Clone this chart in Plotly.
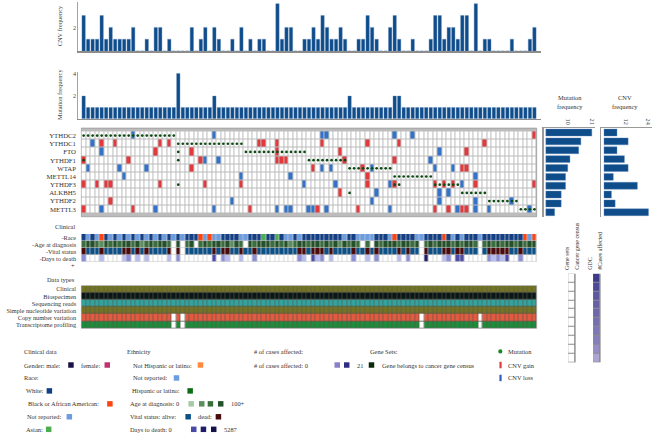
import plotly.graph_objects as go

W, H = 653, 434
FONT = "Liberation Serif"

# ---------------- data ----------------
genes = ["YTHDC2", "YTHDC1", "FTO", "YTHDF1", "WTAP", "METTL14",
         "YTHDF3", "ALKBH5", "YTHDF2", "METTL3"]
N_CASES = 101
case_ids = list(range(N_CASES))

mutation_cases = {
    "YTHDC2": [0, 1, 2, 3, 4, 5, 6, 7, 8, 9, 10, 11, 12, 13, 14, 15, 16, 17, 18, 19, 20],
    "YTHDC1": [21, 22, 23, 24, 25, 26, 27, 28, 29, 30, 31, 32, 33, 34, 35],
    "FTO": [21, 36, 37, 38, 39, 40, 41, 42, 43, 44, 45, 46, 47, 48, 49],
    "YTHDF1": [0, 21, 50, 51, 52, 53, 54, 55, 56, 57, 58],
    "WTAP": [59, 60, 61, 62, 63, 64, 65, 66, 67, 68],
    "METTL14": [69, 70, 71, 72, 73, 74, 75, 76, 77],
    "YTHDF3": [21, 69, 70, 78, 79, 80, 81, 82, 83],
    "ALKBH5": [59, 84, 85, 86, 87, 88, 89],
    "YTHDF2": [90, 91, 92, 93, 94, 95, 96],
    "METTL3": [97, 98, 99, 100],
}
cnv_gain_cases = {
    "YTHDC2": [100],
    "YTHDC1": [4, 7, 17, 19, 39, 40, 43, 53, 63, 70, 89],
    "FTO": [16, 24, 43, 57, 85],
    "YTHDF1": [0, 10, 26, 43, 44, 45, 58, 69],
    "WTAP": [24, 51, 62, 84, 85],
    "METTL14": [63],
    "YTHDF3": [0, 3, 5, 6, 17, 27, 35, 63, 69, 78, 80, 82, 87, 100],
    "ALKBH5": [57],
    "YTHDF2": [6],
    "METTL3": [0, 11, 37, 52, 61, 78, 81, 84, 85],
}
cnv_loss_cases = {
    "YTHDC2": [11, 29, 53, 54, 69, 73],
    "YTHDC1": [2],
    "FTO": [4, 79],
    "YTHDF1": [27, 30, 77],
    "WTAP": [1, 8, 14, 53, 55, 64, 78, 82],
    "METTL14": [9, 35, 46, 87],
    "YTHDF3": [49, 56, 68, 84],
    "ALKBH5": [65, 79, 81],
    "YTHDF2": [33, 64, 79, 87, 95],
    "METTL3": [4, 16, 29, 43, 45, 46, 50, 51, 54, 68, 83, 87, 90, 99],
}

cnv_by_case = [3, 1, 1, 1, 3, 1, 2, 1, 1, 1,
               1, 2, 0, 0, 1, 0, 2, 2, 0, 1,
               0, 0, 0, 0, 2, 0, 1, 2, 0, 2,
               1, 0, 0, 1, 0, 2, 0, 1, 0, 1,
               1, 0, 0, 4, 1, 2, 2, 0, 0, 1,
               1, 2, 1, 3, 2, 1, 1, 2, 1, 0,
               0, 1, 1, 3, 2, 1, 0, 0, 2, 3,
               1, 0, 0, 1, 0, 0, 0, 1, 3, 3,
               1, 2, 2, 1, 3, 3, 0, 4, 0, 1,
               1, 0, 0, 0, 0, 1, 0, 0, 0, 1,
               2]
mutation_by_case = [2, 1, 1, 1, 1, 1, 1, 1, 1, 1,
                    1, 1, 1, 1, 1, 1, 1, 1, 1, 1,
                    1, 4, 1, 1, 1, 1, 1, 1, 1, 2,
                    1, 1, 1, 1, 1, 1, 1, 1, 1, 1,
                    1, 1, 1, 1, 1, 1, 1, 1, 1, 1,
                    1, 1, 1, 1, 1, 1, 1, 1, 1, 2,
                    1, 1, 1, 1, 1, 1, 1, 1, 1, 2,
                    2, 1, 1, 1, 1, 1, 1, 1, 1, 1,
                    1, 1, 1, 1, 1, 1, 1, 1, 1, 1,
                    1, 1, 1, 1, 1, 1, 1, 1, 1, 1,
                    1]
mutation_freq_by_gene = [21, 16, 15, 11, 10, 9, 9, 7, 7, 4]
cnv_freq_by_gene = [7, 13, 7, 11, 13, 5, 18, 4, 6, 24]
cancer_census_by_gene = [0, 0, 0, 0, 0, 0, 0, 0, 0, 0]
cases_affected_by_gene = [19, 17, 15, 14, 13, 12, 11, 10, 8, 5]

clinical_tracks = ["-Race", "-Age at diagnosis", "-Vital status", "-Days to death"]
race = ("WNWNBWNWNW" "NWNWNWNWNW" "NWNWWWBNBN" "NWWWWNNWWW" "AWWAWNNWNW"
        "WWWWWWWWNW" "WNNNNWWWNB" "WWWWNNWWWW" "BWNWNWWWNW" "WWWWWWWWBN" "B")
age_bin = ("3443243434" "4342343443" "0403403434" "4342430434" "4434342344"
           "3443434243" "4303043444" "3443403434" "4434344303" "4343443434" "4")
vital = ("DAAADAAAAD" "DADADAAAAD" "0D0AAAAAAD" "ADDAADAADA" "AAAAAAAADD"
         "ADDDADAAAA" "DAADADAAAA" "DADAA0DAAA" "DDADDAAA0A" "DDDDDAADAA" "A")
days_bin = ("2000100001" "2010100001" "0200000003" "0210010020" "0000000021"
            "0312010000" "2001020000" "1020004000" "1203300000" "2121300200" "0")

data_types = ["Clinical", "Biospecimen", "Sequencing reads",
              "Simple nucleotide variation", "Copy number variation",
              "Transcriptome profiling"]
data_type_missing = {"Copy number variation": [20, 22, 75, 88],
                     "Transcriptome profiling": [20, 22, 75, 88]}

# ---------------- colours ----------------
C_BAR = "#0f4c8a"
C_GAIN = "#e2393d"
C_LOSS = "#3273c9"
C_MUT = "#0e4a16"
race_col = {"W": "#123f85", "N": "#6b9de0", "B": "#ff4411", "A": "#4cae50"}
age_col = {"1": "#a6c9a6", "2": "#5d8e5d", "3": "#3a6e3c", "4": "#24502a"}
vital_col = {"A": "#0c5088", "D": "#4b0a0d"}
days_col = {"1": "#b7bdf0", "2": "#8a8fd8", "3": "#4b4aa8", "4": "#1c1b6a"}
dtype_col = {"Clinical": "#737325", "Biospecimen": "#0b1717",
             "Sequencing reads": "#33a3a0", "Simple nucleotide variation": "#737325",
             "Copy number variation": "#e25a40", "Transcriptome profiling": "#1d8c3c"}


def px(x):
    return x / W


def py(y):
    return 1 - y / H


def discrete_scale(colors):
    n = len(colors)
    cs = []
    for i, c in enumerate(colors):
        cs.append([i / n, c])
        cs.append([(i + 1) / n, c])
    return cs


# ---------------- geometry ----------------
GL, GR = 81.5, 537.5
colw = (GR - GL) / N_CASES
BL, BR = 78.3, 541.5
bar_range = [-0.5 - (GL - BL) / colw, N_CASES - 0.5 + (BR - GR) / colw]
grid_range = [-0.5, N_CASES - 0.5]
grid_dom = [py(215.7), py(126.7)]

fig = go.Figure()

# top CNV frequency per case
fig.add_trace(go.Bar(x=case_ids, y=cnv_by_case, xaxis="x", yaxis="y", width=0.74,
                     marker=dict(color=C_BAR, line=dict(color="#5a86b8", width=0.4)),
                     hoverinfo="skip"))
# mutation frequency per case
fig.add_trace(go.Bar(x=case_ids, y=mutation_by_case, xaxis="x4", yaxis="y2", width=0.74,
                     marker=dict(color=C_BAR, line=dict(color="#5a86b8", width=0.4)),
                     hoverinfo="skip"))

# oncoprint grid
z = []
for g in genes:
    row = []
    for c in case_ids:
        if c in cnv_gain_cases[g]:
            row.append(1)
        elif c in cnv_loss_cases[g]:
            row.append(2)
        else:
            row.append(0)
    z.append(row)
fig.add_trace(go.Heatmap(z=z, x=case_ids, y=genes, xaxis="x5", yaxis="y3",
                         colorscale=discrete_scale(["#ffffff", C_GAIN, C_LOSS]),
                         zmin=-0.5, zmax=2.5, showscale=False, xgap=1, ygap=1,
                         hoverinfo="skip"))
mx, my = [], []
for g in genes:
    for c in mutation_cases[g]:
        mx.append(c)
        my.append(g)
fig.add_trace(go.Scatter(x=mx, y=my, xaxis="x5", yaxis="y3", mode="markers",
                         marker=dict(size=2.7, color=C_MUT), hoverinfo="skip"))

# right panels
fig.add_trace(go.Bar(x=mutation_freq_by_gene, y=genes, orientation="h", xaxis="x2", yaxis="y6",
                     width=0.78, marker=dict(color=C_BAR, line=dict(color="#5a86b8", width=0.4)),
                     hoverinfo="skip"))
fig.add_trace(go.Bar(x=cnv_freq_by_gene, y=genes, orientation="h", xaxis="x3", yaxis="y7",
                     width=0.78, marker=dict(color=C_BAR, line=dict(color="#5a86b8", width=0.4)),
                     hoverinfo="skip"))

# clinical tracks
pal = ["#ffffff"] + list(race_col.values()) + list(age_col.values()) + \
      list(vital_col.values()) + list(days_col.values())
race_idx = {k: 1 + i for i, k in enumerate(race_col)}
age_idx = {k: 5 + i for i, k in enumerate(age_col)}
vital_idx = {k: 9 + i for i, k in enumerate(vital_col)}
days_idx = {k: 11 + i for i, k in enumerate(days_col)}
zc = [
    [race_idx.get(v, 0) for v in race],
    [age_idx.get(v, 0) for v in age_bin],
    [vital_idx.get(v, 0) for v in vital],
    [days_idx.get(v, 0) for v in days_bin],
]
fig.add_trace(go.Heatmap(z=zc, x=case_ids, y=clinical_tracks, xaxis="x6", yaxis="y4",
                         colorscale=discrete_scale(pal), zmin=-0.5, zmax=len(pal) - 0.5,
                         showscale=False, xgap=0.7, ygap=0.6, hoverinfo="skip"))

# data types
dpal = ["#ffffff"] + list(dict.fromkeys(dtype_col.values()))
zd = []
for d in data_types:
    code = dpal.index(dtype_col[d])
    miss = data_type_missing.get(d, [])
    zd.append([0 if c in miss else code for c in case_ids])
fig.add_trace(go.Heatmap(z=zd, x=case_ids, y=data_types, xaxis="x7", yaxis="y5",
                         colorscale=discrete_scale(dpal), zmin=-0.5, zmax=len(dpal) - 0.5,
                         showscale=False, xgap=0.6, ygap=0.8, hoverinfo="skip"))

# gene sets columns
fig.add_trace(go.Heatmap(z=[[v] for v in cancer_census_by_gene], x=[0], y=genes,
                         xaxis="x8", yaxis="y8", colorscale=[[0, "#ffffff"], [1, "#0a2a0a"]],
                         zmin=0, zmax=1, showscale=False, xgap=1, ygap=1, hoverinfo="skip"))
fig.add_trace(go.Heatmap(z=[[v] for v in cases_affected_by_gene], x=[0], y=genes,
                         xaxis="x9", yaxis="y8", colorscale=[[0, "#d2ccee"], [1, "#2f2a82"]],
                         zmin=0, zmax=21, showscale=False, xgap=1, ygap=1, hoverinfo="skip"))

# ---------------- axes ----------------
tf = dict(family=FONT, size=6.2, color="#444")
hidden = dict(showgrid=False, zeroline=False, showticklabels=False, ticks="", showline=False)
bars_x = dict(domain=[px(BL), px(BR)], range=bar_range, showline=True, linecolor="#8c8c8c",
              linewidth=1.6, showgrid=False, zeroline=False, showticklabels=False, ticks="")
grid_x = dict(domain=[px(GL), px(GR)], range=grid_range, **hidden)


def cat_y(anchor, dom, cats, size):
    return dict(anchor=anchor, domain=dom, type="category", categoryorder="array",
                categoryarray=cats, autorange="reversed", showgrid=False, zeroline=False,
                tickmode="array", tickvals=cats, ticktext=cats,
                ticks="outside", ticklen=3, tickcolor="rgba(0,0,0,0)",
                tickfont=dict(family=FONT, size=size, color="#333"))


layout = dict(
    width=W, height=H, margin=dict(l=0, r=0, t=0, b=0),
    paper_bgcolor="white", plot_bgcolor="white", showlegend=False,
    font=dict(family=FONT, color="#333"),
    xaxis=dict(anchor="y", **bars_x),
    xaxis4=dict(anchor="y2", **bars_x),
    xaxis5=dict(anchor="y3", **grid_x),
    xaxis6=dict(anchor="y4", **grid_x),
    xaxis7=dict(anchor="y5", **grid_x),
    yaxis=dict(anchor="x", domain=[py(49.3), py(0.5)], range=[0, 4.1], tickvals=[2, 4],
               showline=True, linecolor="#8c8c8c", linewidth=0.8, showgrid=False,
               zeroline=False, ticks="", tickfont=tf),
    yaxis2=dict(anchor="x4", domain=[py(117.3), py(70)], range=[0, 4.15], tickvals=[2, 4],
                showline=True, linecolor="#8c8c8c", linewidth=0.8, showgrid=False,
                zeroline=False, ticks="", tickfont=tf),
    yaxis3=cat_y("x5", grid_dom, genes, 6.8),
    yaxis4=cat_y("x6", [py(261), py(233)], clinical_tracks, 6.3),
    yaxis5=cat_y("x7", [py(327.8), py(285)], data_types, 6.3),
    xaxis2=dict(anchor="y6", domain=[px(544.5), px(596)], range=[-1.0, 22.5], side="top",
                tickvals=[10, 21], tickangle=90, showline=True, linecolor="#9a9a9a",
                linewidth=1.2, showgrid=False, zeroline=False, ticks="", tickfont=tf),
    yaxis6=dict(anchor="x2", domain=grid_dom, type="category", categoryorder="array",
                categoryarray=genes, autorange="reversed", showline=True, linecolor="#9a9a9a",
                linewidth=1.2, showgrid=False, zeroline=False, showticklabels=False, ticks=""),
    xaxis3=dict(anchor="y7", domain=[px(602.3), 1.0], range=[-1.42, 25.9], side="top",
                tickvals=[12, 24], tickangle=90, showline=True, linecolor="#9a9a9a",
                linewidth=1.2, showgrid=False, zeroline=False, ticks="", tickfont=tf),
    yaxis7=dict(anchor="x3", domain=grid_dom, type="category", categoryorder="array",
                categoryarray=genes, autorange="reversed", showline=True, linecolor="#9a9a9a",
                linewidth=1.2, showgrid=False, zeroline=False, showticklabels=False, ticks=""),
    xaxis8=dict(anchor="y8", domain=[px(569), px(576.5)], range=[-0.5, 0.5], **hidden),
    xaxis9=dict(anchor="y8", domain=[px(594), px(601.5)], range=[-0.5, 0.5], **hidden),
    yaxis8=dict(anchor="x8", domain=[py(362), py(273)], type="category", categoryorder="array",
                categoryarray=genes, autorange="reversed", **hidden),
)
fig.update_layout(**layout)

shapes = []
ann = []


def bg(xref, yref, color, line=None):
    shapes.append(dict(type="rect", xref=xref + " domain", yref=yref + " domain", x0=0, x1=1,
                       y0=0, y1=1, fillcolor=color, layer="below",
                       line=dict(width=0) if line is None else line))


bg("x5", "y3", "#bcbcbc", dict(color="#9a9a9a", width=0.8))
bg("x6", "y4", "#c9c9c9")
bg("x7", "y5", "#5a5a4a", dict(color="#b0b0b0", width=0.8))
bg("x8", "y8", "#8a8a8a")
bg("x9", "y8", "#8a8a8a")


def txt(x, y, s, size=6.4, anchor="left", angle=0, yanchor="middle", color="#333"):
    ann.append(dict(x=px(x), y=py(y), xref="paper", yref="paper", text=s, showarrow=False,
                    xanchor=anchor, yanchor=yanchor, textangle=angle,
                    font=dict(family=FONT, size=size, color=color)))


def box(x0, yc, color, w=5.5, h=5.5):
    shapes.append(dict(type="rect", xref="paper", yref="paper", x0=px(x0), x1=px(x0 + w),
                       y0=py(yc + h / 2), y1=py(yc - h / 2), fillcolor=color,
                       line=dict(width=0)))


# axis titles / section headers
txt(59.5, 24, "CNV frequency", angle=-90, anchor="center", color="#444")
txt(59.5, 93, "Mutation frequency", angle=-90, anchor="center", color="#444")
txt(571, 95.5, "Mutation", anchor="center")
txt(571, 104.5, "frequency", anchor="center")
txt(625.5, 95.5, "CNV", anchor="center")
txt(625.5, 104.5, "frequency", anchor="center")
txt(77.5, 225.3, "Clinical", anchor="right")
txt(77.5, 264.3, "+", anchor="right")
txt(77.5, 279, "Data types", anchor="right")
txt(568.5, 271.5, "Gene sets", angle=-90, anchor="center", yanchor="bottom", size=6)
txt(578.5, 271.5, "Cancer gene census", angle=-90, anchor="center", yanchor="bottom", size=6)
txt(591, 271.5, "GDC", angle=-90, anchor="center", yanchor="bottom", size=6)
txt(601.5, 271.5, "#Cases affected", angle=-90, anchor="center", yanchor="bottom", size=6)

# legends
L = [351, 364.7, 377.7, 390.7, 403.7, 416.7, 429.3]
txt(22, L[0], "Clinical data")
txt(22, L[1], "Gender: male:")
box(68.3, L[1], "#1b1145")
txt(79.5, L[1], "female:")
box(104.7, L[1], "#c2306c")
txt(22, L[2], "Race:")
txt(24.5, L[3], "White:")
box(46.7, L[3], race_col["W"])
txt(26.5, L[4], "Black or African American:")
box(107.3, L[4], race_col["B"])
txt(25.5, L[5], "Not reported:")
box(66.7, L[5], race_col["N"])
txt(24, L[6], "Asian:")
box(46, L[6], race_col["A"])

txt(125.5, L[0], "Ethnicity")
txt(131.5, L[1], "Not Hispanic or latino:")
box(198, L[1], "#ff8a3d")
txt(131.5, L[2], "Not reported:")
box(174, L[2], "#6b9de0")
txt(130.5, L[3], "Hispanic or latino:")
box(187.7, L[3], "#0b6e13")
txt(128.5, L[4], "Age at diagnosis: 0")
for xb, k in zip([188.7, 199.3, 208, 218.3], ["1", "2", "3", "4"]):
    box(xb, L[4], age_col[k])
txt(229.5, L[4], "100+")
txt(128.5, L[5], "Vital status: alive:")
box(185.7, L[5], vital_col["A"])
txt(196.5, L[5], "dead:")
box(216, L[5], vital_col["D"])
txt(128.5, L[6], "Days to death: 0")
for xb, c in zip([191.3, 201, 211.3], ["#4a4aa6", "#1f1d6b", "#12124a"]):
    box(xb, L[6], c)
txt(222.5, L[6], "5287")

txt(252.5, L[0], "# of cases affected:")
txt(252.5, L[1], "# of cases affected: 0")
box(335, L[1], "#8b80c8")
box(344.5, L[1], "#2f2a82")
txt(355.5, L[1], "21")
txt(368.5, L[0], "Gene Sets:")
box(369.3, L[1], "#0a2a0a")
txt(380.5, L[1], "Gene belongs to cancer gene census")

shapes.append(dict(type="circle", xref="paper", yref="paper", x0=px(499), x1=px(503.2),
                   y0=py(L[0] + 2.1), y1=py(L[0] - 2.1), fillcolor="#138a26",
                   line=dict(width=0)))
txt(506.5, L[0], "Mutation")
box(500.2, L[1], C_GAIN, w=2.2, h=6.5)
txt(506.5, L[1], "CNV gain")
box(500.2, L[2], "#2a5fc0", w=2.2, h=6.5)
txt(506.5, L[2], "CNV loss")

fig.update_layout(shapes=shapes, annotations=ann)
fig.write_html("out.html", config={"displayModeBar": False, "staticPlot": True},
               post_script="document.body.style.margin='0';document.body.style.overflow='hidden';")
